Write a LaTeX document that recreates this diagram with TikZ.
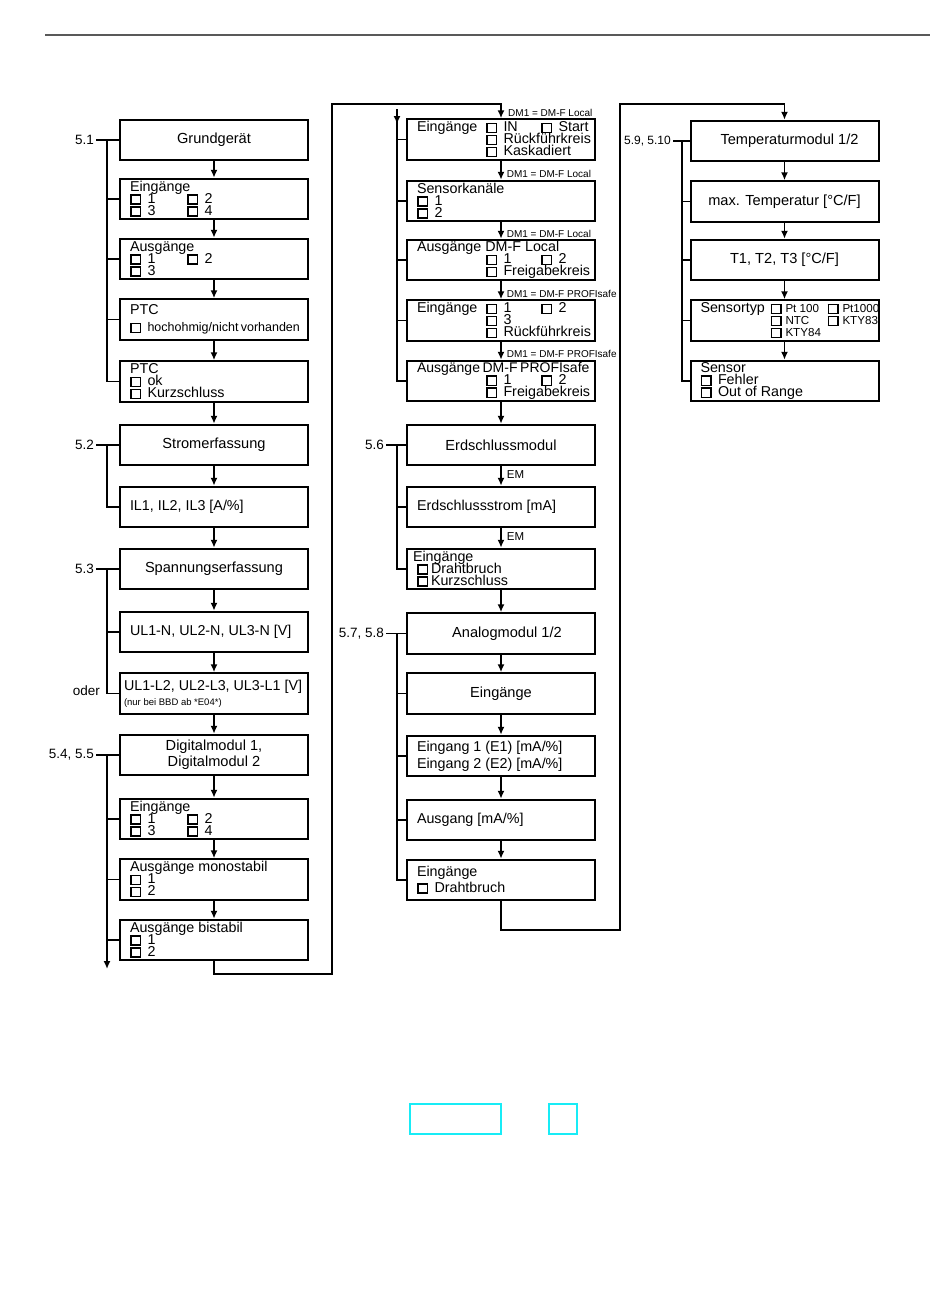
\documentclass[tikz,border=0pt]{standalone}
\usepackage{fontspec}
\setmainfont{Liberation Sans}
\usetikzlibrary{arrows.meta}

\definecolor{markcyan}{RGB}{24,236,246}
\newcommand\cb{{\setlength\fboxsep{0pt}\setlength\fboxrule{1.5pt}\fbox{\rule{0pt}{7.6pt}\hspace{8pt}}}}
\newcommand\cbx{\cb\kern6.5pt}
\newcommand\cbn{\cb\kern4pt}
\newcommand\nar{\fontsize{11.6}{12}\selectfont}
\newcommand\boxfont{\fontsize{14.3}{12}\selectfont\lineskiplimit=-50pt\lineskip=0pt\exhyphenpenalty=10000\hyphenpenalty=10000\relax}
\newcommand\cfont{\fontsize{14.6}{12}\selectfont\lineskiplimit=-50pt\lineskip=0pt\relax}

\tikzset{
  menu/.style={draw, line width=2pt, minimum width=188pt, minimum height=40.5pt, inner sep=0pt, font=\boxfont},
  cmenu/.style={menu, align=center, font=\cfont},
  lmenu/.style={menu, align=flush left, text width=168pt, inner xsep=10pt},
  link/.style={line width=1.7pt},
  arr/.style={link, -{Latex[length=8pt,width=7pt]}},
  sect/.style={font=\fontsize{13.5}{14}\selectfont, anchor=east, inner sep=2pt},
  cond/.style={font=\fontsize{10}{10}\selectfont, right, inner sep=1pt, xshift=4pt},
}

\begin{document}
\begin{tikzpicture}[x=1pt,y=-1pt]
    \useasboundingbox (0,0) rectangle (950,1302);
    \draw[line width=1.3pt, black!65] (45,35) -- (930,35);

    % Grundgeraet, Strom, Spannung, Digitalmodul
    \node[cmenu] (grund) at (214,140) {Grundgerät};
    \node[lmenu] (ein1) at (214,199) {Eingänge\\\makebox[57pt][l]{\cbx 1}\cbx 2\\\makebox[57pt][l]{\cbx 3}\cbx 4};
    \node[lmenu] (aus1) at (214,259) {Ausgänge\\\makebox[57pt][l]{\cbx 1}\cbx 2\\\cbx 3};
    \node[lmenu] (ptc1) at (214,319.5) {PTC\\[5pt]{\fontsize{12.5}{12}\selectfont\cbx hochohmig/nicht~vorhanden}};
    \node[lmenu] (ptc2) at (214,381.5) {PTC\\\cbx ok\\\cbx Kurzschluss};
    \node[cmenu] (strom) at (214,445) {Stromerfassung};
    \node[lmenu] (il) at (214,507) {IL1, IL2, IL3 [A/\%]};
    \node[cmenu] (span) at (214,569) {Spannungserfassung};
    \node[lmenu] (uln) at (214,632) {UL1-N, UL2-N, UL3-N [V]};
    \node[lmenu, inner xsep=4pt, text width=180pt] (ull) at (214,693.5) {UL1-L2, UL2-L3, UL3-L1 [V]\\[1pt]{\fontsize{9.5}{10}\selectfont\kern2pt(nur bei BBD ab *E04*)}};
    \node[cmenu] (dig) at (214,755) {Digitalmodul 1,\\[4pt]Digitalmodul 2};
    \node[lmenu] (ein2) at (214,819) {Eingänge\\\makebox[57pt][l]{\cbx 1}\cbx 2\\\makebox[57pt][l]{\cbx 3}\cbx 4};
    \node[lmenu] (mono) at (214,879.5) {Ausgänge monostabil\\\cbx 1\\\cbx 2};
    \node[lmenu] (bi) at (214,940) {Ausgänge bistabil\\\cbx 1\\\cbx 2};

    % DM-F, Erdschluss, Analogmodul
    \node[lmenu] (A) at (501,139.5) {\makebox[69pt][l]{Eingänge}\makebox[55pt][l]{\cbx IN}\cbx Start\\\makebox[69pt]{}\cbx Rückführkreis\\\makebox[69pt]{}\cbx Kaskadiert};
    \node[lmenu] (B) at (501,201) {Sensorkanäle\\\cbx 1\\\cbx 2};
    \node[lmenu] (C) at (501,260) {Ausgänge DM-F Local\\\makebox[69pt]{}\makebox[55pt][l]{\cbx 1}\cbx 2\\\makebox[69pt]{}\cbx Freigabekreis};
    \node[lmenu] (D) at (501,320.5) {\makebox[69pt][l]{Eingänge}\makebox[55pt][l]{\cbx 1}\cbx 2\\\makebox[69pt]{}\cbx 3\\\makebox[69pt]{}\cbx Rückführkreis};
    \node[lmenu] (E) at (501,381) {{\fontsize{14}{12}\selectfont Ausgänge~DM-F~PROFIsafe}\\\makebox[69pt]{}\makebox[55pt][l]{\cbx 1}\cbx 2\\\makebox[69pt]{}\cbx Freigabekreis};
    \node[cmenu] (erd) at (501,445) {Erdschlussmodul};
    \node[lmenu] (erds) at (501,507) {Erdschlussstrom [mA]};
    \node[lmenu] (eg) at (501,569) {\kern-4pt Eingänge\\\cb\kern3pt Drahtbruch\\\cb\kern3pt Kurzschluss};
    \node[cmenu] (ana) at (501,633.5) {\kern12pt Analogmodul 1/2};
    \node[cmenu] (eing) at (501,693.5) {Eingänge};
    \node[lmenu] (e12) at (501,756) {Eingang 1 (E1) [mA/\%]\\[5pt]Eingang 2 (E2) [mA/\%]};
    \node[lmenu] (aus) at (501,820) {Ausgang [mA/\%]};
    \node[lmenu] (edr) at (501,880) {Eingänge\\[4pt]\cbx Drahtbruch};

    % Temperaturmodul
    \node[cmenu] (T1) at (784.5,141) {\kern10pt Temperaturmodul 1/2};
    \node[cmenu] (T2) at (784.5,201.5) {max. Temperatur [°C/F]};
    \node[cmenu] (T3) at (784.5,260) {T1, T2, T3 [°C/F]};
    \node[lmenu] (T4) at (784.5,320.5) {\makebox[70pt][l]{Sensortyp}{\nar\makebox[57pt][l]{\cbn Pt 100}\cbn Pt1000}\\\makebox[70pt]{}{\nar\makebox[57pt][l]{\cbn NTC}\cbn KTY83}\\\makebox[70pt]{}{\nar\cbn KTY84}};
    \node[lmenu] (T5) at (784.5,381) {Sensor\\\cbx Fehler\\\cbx Out of Range};

    % menu chains
    \foreach \a/\b in {grund/ein1,ein1/aus1,aus1/ptc1,ptc1/ptc2,ptc2/strom,strom/il,il/span,span/uln,uln/ull,ull/dig,dig/ein2,ein2/mono,mono/bi,
                       E/erd,eg/ana,ana/eing,eing/e12,e12/aus,aus/edr,T1/T2,T2/T3,T3/T4,T4/T5}
        \draw[arr] (\a) -- (\b);
    \draw[arr] (A) -- node[cond,pos=.7]{DM1 = DM-F Local} (B);
    \draw[arr] (B) -- node[cond,pos=.7]{DM1 = DM-F Local} (C);
    \draw[arr] (C) -- node[cond,pos=.7]{DM1 = DM-F PROFIsafe} (D);
    \draw[arr] (D) -- node[cond,pos=.7]{DM1 = DM-F PROFIsafe} (E);
    \draw[arr] (erd) -- node[cond,pos=.45,font=\fontsize{11.5}{12}\selectfont]{EM} (erds);
    \draw[arr] (erds) -- node[cond,pos=.45,font=\fontsize{11.5}{12}\selectfont]{EM} (eg);

    % column jumps
    \coordinate (l1a) at (332,974);
    \coordinate (l1b) at (332,104);
    \draw[arr] (bi) |- (l1a) |- (l1b) -| (A);
    \node[cond] (dm0) at (503,113) {DM1 = DM-F Local};
    \coordinate (l2a) at (620,930);
    \coordinate (l2b) at (620,104);
    \draw[arr] (edr) |- (l2a) |- (l2b) -| (T1);

    % section brackets
    \node[sect] (s51) at (96,140) {5.1};
    \draw[link] (s51) -- (grund);
    \coordinate (k1) at (107,140);
    \draw[link] (k1) |- (ptc2);
    \foreach \n in {ein1,aus1,ptc1} \draw[link] (k1 |- \n.west) -- (\n);

    \node[sect] (s52) at (96,445) {5.2};
    \draw[link] (s52) -- (strom);
    \coordinate (k2) at (107,445);
    \draw[link] (k2) |- (il);

    \node[sect] (s53) at (96,569) {5.3};
    \draw[link] (s53) -- (span);
    \coordinate (k3) at (107,569);
    \draw[link] (k3) |- (ull);
    \draw[link] (k3 |- uln.west) -- (uln);
    \node[sect] (oder) at (102,691) {oder};

    \node[sect] (s54) at (96,755) {5.4, 5.5};
    \draw[link] (s54) -- (dig);
    \coordinate (k4) at (107,755);
    \coordinate (k4e) at (107,969);
    \draw[arr] (k4) -- (k4e);
    \foreach \n in {ein2,mono,bi} \draw[link] (k4 |- \n.west) -- (\n);

    \coordinate (k5) at (397,109);
    \coordinate (k5e) at (397,124);
    \draw[link] (k5) |- (E);
    \draw[arr] (k5) -- (k5e);
    \foreach \n in {A,B,C,D} \draw[link] (k5 |- \n.west) -- (\n);

    \node[sect] (s56) at (386,445) {5.6};
    \draw[link] (s56) -- (erd);
    \coordinate (k6) at (397,445);
    \draw[link] (k6) |- (eg);
    \draw[link] (k6 |- erds.west) -- (erds);

    \node[sect] (s57) at (386,633.5) {5.7, 5.8};
    \draw[link] (s57) -- (ana);
    \coordinate (k7) at (397,633.5);
    \draw[link] (k7) |- (edr);
    \foreach \n in {eing,e12,aus} \draw[link] (k7 |- \n.west) -- (\n);

    \node[sect, font=\fontsize{12}{12}\selectfont] (s59) at (673,141) {5.9, 5.10};
    \draw[link] (s59) -- (T1);
    \coordinate (k8) at (682,141);
    \draw[link] (k8) |- (T5);
    \foreach \n in {T2,T3,T4} \draw[link] (k8 |- \n.west) -- (\n);

    % marks below
    \draw[markcyan, line width=2pt] (409.5,1103.5) rectangle (501,1134);
    \draw[markcyan, line width=2pt] (549,1103.5) rectangle (577,1134);
\end{tikzpicture}
\end{document}
